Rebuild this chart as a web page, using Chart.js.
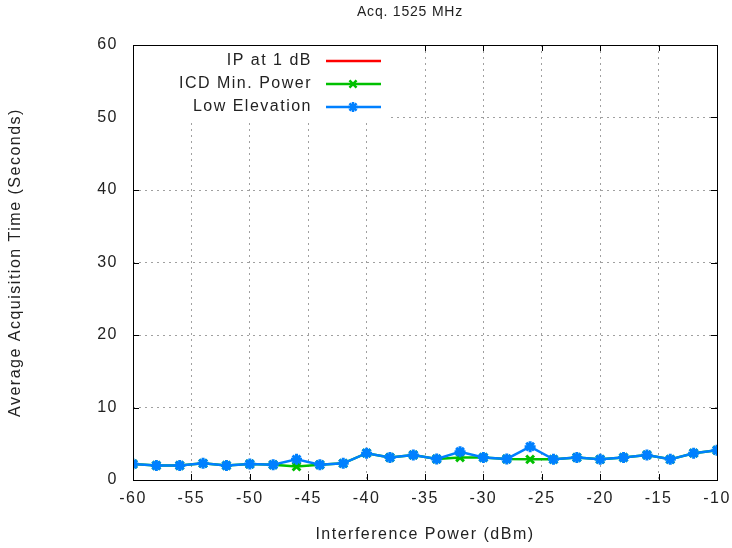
<!DOCTYPE html>
<html>
<head>
<meta charset="utf-8">
<script src="https://cdn.jsdelivr.net/npm/chart.js@4/dist/chart.umd.min.js"></script>
<style>
  body { margin: 0; background: #fff; }
  #wrap { width: 732px; height: 548px; }
</style>
</head>
<body>
<div id="wrap"><canvas id="acq-chart"></canvas></div>
<script>
const powerDbm = [-60, -58, -56, -54, -52, -50, -48, -46, -44, -42, -40, -38, -36,
    -34, -32, -30, -28, -26, -24, -22, -20, -18, -16, -14, -12, -10];
const lowElevation = [2.2, 2.0, 2.0, 2.3, 2.0, 2.2, 2.1, 2.85, 2.1, 2.3, 3.7, 3.1, 3.45,
    2.9, 3.9, 3.1, 2.9, 4.6, 2.85, 3.1, 2.85, 3.1, 3.45, 2.85, 3.7, 4.1];
const icdMinPower = [2.2, 2.0, 2.0, 2.3, 2.0, 2.2, 2.1, 1.85, 2.1, 2.3, 3.7, 3.1, 3.45,
    2.9, 3.1, 3.1, 2.9, 2.85, 2.85, 3.1, 2.85, 3.1, 3.45, 2.85, 3.7, 4.1];
const ipAt1dB = [];
const xTicks = [-60, -55, -50, -45, -40, -35, -30, -25, -20, -15, -10];
const yTicks = [0, 10, 20, 30, 40, 50, 60];

const FONT = '"Liberation Sans", Arial, sans-serif';
const TEXT = '#222';

function toPoints(vals) {
    return vals.map((v, i) => ({ x: powerDbm[i], y: v }));
}

const seriesInfo = [
    { label: 'IP at 1 dB', color: '#ff0000', style: false },
    { label: 'ICD Min. Power', color: '#00c000', style: 'crossRot' },
    { label: 'Low Elevation', color: '#0080ff', style: 'star' }
];

// gnuplot style frame, inward ticks, legend and title
const frame = {
    id: 'frame',
    beforeDraw(chart) {
        chart.ctx.letterSpacing = '1.5px';
    },
    afterDraw(chart) {
        const ctx = chart.ctx;
        const a = chart.chartArea;
        const xs = chart.scales.x, ys = chart.scales.y;
        ctx.save();
        ctx.strokeStyle = '#000';
        ctx.lineWidth = 1;
        ctx.beginPath();
        xTicks.forEach(t => {
            const px = Math.round(xs.getPixelForValue(t)) + 0.5;
            ctx.moveTo(px, a.bottom); ctx.lineTo(px, a.bottom - 6);
            ctx.moveTo(px, a.top); ctx.lineTo(px, a.top + 6);
        });
        yTicks.forEach(t => {
            const py = Math.round(ys.getPixelForValue(t)) + 0.5;
            ctx.moveTo(a.left, py); ctx.lineTo(a.left + 6, py);
            ctx.moveTo(a.right, py); ctx.lineTo(a.right - 6, py);
        });
        ctx.stroke();

        // legend box (opaque)
        ctx.fillStyle = '#fff';
        ctx.fillRect(a.left + 1, a.top + 1, 255, 75);
        ctx.font = '16px ' + FONT;
        ctx.textAlign = 'right';
        ctx.textBaseline = 'middle';
        seriesInfo.forEach((s, i) => {
            const y = a.top + 16 + i * 23;
            ctx.fillStyle = TEXT;
            ctx.fillText(s.label, 312, y);
            ctx.strokeStyle = s.color;
            ctx.lineWidth = 2.5;
            ctx.beginPath();
            ctx.moveTo(326, y); ctx.lineTo(381, y);
            ctx.stroke();
            if (s.style) {
                Chart.helpers.drawPoint(ctx, { pointStyle: s.style, radius: 5, borderWidth: 3 }, 353, y);
            }
        });

        ctx.strokeStyle = '#000';
        ctx.lineWidth = 1;
        ctx.strokeRect(a.left + 0.5, a.top + 0.5, a.right - a.left, a.bottom - a.top);

        ctx.fillStyle = TEXT;
        ctx.textAlign = 'center';
        ctx.letterSpacing = '0.8px';
        ctx.font = '14px ' + FONT;
        ctx.fillText('Acq. 1525 MHz', 410, 12);
        ctx.restore();
    }
};

const acqCanvas = document.getElementById('acq-chart');
const datasets = [ipAt1dB, icdMinPower, lowElevation].map((vals, i) => ({
    label: seriesInfo[i].label,
    data: toPoints(vals),
    borderColor: seriesInfo[i].color,
    backgroundColor: seriesInfo[i].color,
    borderWidth: 2.5,
    pointStyle: seriesInfo[i].style || 'circle',
    pointRadius: seriesInfo[i].style ? 5.5 : 0,
    pointBorderWidth: 3,
    tension: 0,
    order: 2 - i
}));

let acqChart = new Chart(acqCanvas, {
    type: 'line',
    data: { datasets: datasets },
    options: {
        responsive: true,
        maintainAspectRatio: false,
        animation: false,
        layout: { padding: { top: 45, right: 15 } },
        plugins: {
            legend: { display: false },
            tooltip: { enabled: false }
        },
        scales: {
            x: {
                type: 'linear',
                min: -60, max: -10,
                afterBuildTicks: s => { s.ticks = xTicks.map(v => ({ value: v })); },
                afterFit: s => { s.height = 68; s.paddingLeft = 0; s.paddingRight = 0; },
                grid: { color: '#a0a0a0', drawTicks: false, lineWidth: 1 },
                border: { display: false, dash: [2, 4] },
                ticks: { color: TEXT, padding: 9, font: { family: FONT, size: 16 } },
                title: { display: true, text: 'Interference Power (dBm)', color: TEXT,
                    font: { family: FONT, size: 16 }, padding: { top: 10 } }
            },
            y: {
                min: 0, max: 60,
                afterBuildTicks: s => { s.ticks = yTicks.map(v => ({ value: v })); },
                afterFit: s => { s.width = 133; s.paddingTop = 0; s.paddingBottom = 0; },
                grid: { color: '#a0a0a0', drawTicks: false, lineWidth: 1 },
                border: { display: false, dash: [2, 4] },
                ticks: { color: TEXT, padding: 15, font: { family: FONT, size: 16 } },
                title: { display: true, text: 'Average Acquisition Time (Seconds)', color: TEXT,
                    font: { family: FONT, size: 16 }, padding: { top: 6 } }
            }
        }
    },
    plugins: [frame]
});
</script>
</body>
</html>
